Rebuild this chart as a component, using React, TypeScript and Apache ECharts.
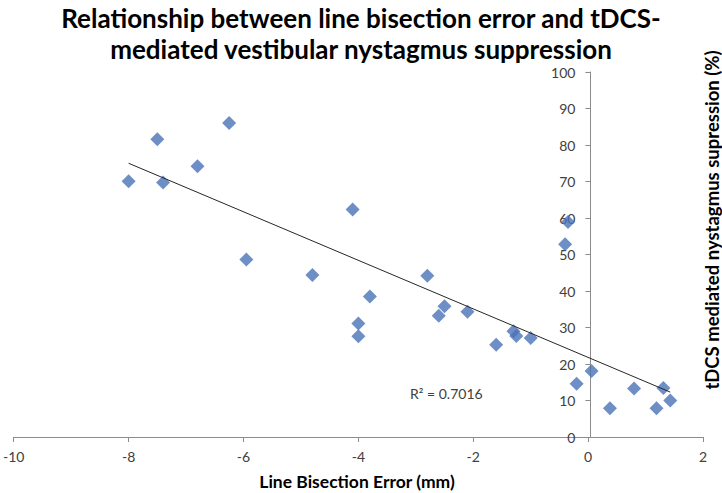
import React, { useEffect, useRef } from "react";
import * as echarts from "echarts";

const bisectionError = [
  -8.0, -7.5, -7.4, -6.8, -6.25, -5.95, -4.8, -4.1, -4.0, -4.0, -3.8, -2.8, -2.6, -2.5,
  -2.1, -1.6, -1.3, -1.25, -1.0, -0.4, -0.35, -0.2, 0.06, 0.38, 0.8, 1.19, 1.31, 1.43,
];
const suppression = [
  70.1, 81.6, 69.7, 74.2, 86.0, 48.6, 44.4, 62.3, 31.1, 27.6, 38.5, 44.2, 33.2, 35.8,
  34.3, 25.3, 29.0, 27.7, 27.1, 52.8, 58.9, 14.6, 18.1, 7.9, 13.3, 7.9, 13.4, 10.0,
];
const trendX = [-8.0, 1.43];
const trendY = [75.0, 12.3];
const xTicks = { min: -10, max: 2, step: 2 };
const yTicks = { min: 0, max: 100, step: 10 };
const titleLines = [
  "Relationship between line bisection error and tDCS-",
  "mediated vestibular nystagmus suppression",
];
const xTitle = "Line Bisection Error (mm)";
const yTitle = "tDCS mediated nystagmus supression (%)";
const rSquaredLabel = "R² = 0.7016";

const FONT = "Lato, 'Open Sans', sans-serif";
const GRID_LEFT = 11;
const GRID_RIGHT = 19;
const WIDTH = 722;

export default function App() {
  const ref = useRef<HTMLDivElement>(null);
  useEffect(() => {
    if (!ref.current) return;
    const chart = echarts.init(ref.current, null, { renderer: "svg" });
    const points = bisectionError.map((x, i) => [x, suppression[i]]);
    const trend = trendX.map((x, i) => [x, trendY[i]]);
    // place the y axis where x = 0 (value axis crossing)
    const plotW = WIDTH - GRID_LEFT - GRID_RIGHT;
    const zeroOffset = ((0 - xTicks.min) / (xTicks.max - xTicks.min)) * plotW;
    chart.setOption({
      animation: false,
      backgroundColor: "#ffffff",
      title: {
        text: titleLines.join("\n"),
        left: "center",
        top: -3,
        textStyle: {
          fontFamily: FONT,
          fontSize: 26,
          fontWeight: "bold",
          color: "#000000",
          lineHeight: 31,
        },
      },
      grid: { left: GRID_LEFT, right: GRID_RIGHT, top: 72, bottom: 56, containLabel: false },
      xAxis: {
        type: "value",
        min: xTicks.min,
        max: xTicks.max,
        interval: xTicks.step,
        splitLine: { show: false },
        axisLine: { show: true, onZero: true, lineStyle: { color: "#8c8c8c", width: 1 } },
        axisTick: { show: true, length: 5, inside: false, lineStyle: { color: "#8c8c8c" } },
        axisLabel: { fontFamily: FONT, fontSize: 14, color: "#404040", margin: 12 },
      },
      yAxis: {
        type: "value",
        position: "left",
        offset: -zeroOffset,
        min: yTicks.min,
        max: yTicks.max,
        interval: yTicks.step,
        splitLine: { show: false },
        axisLine: { show: true, onZero: false, lineStyle: { color: "#8c8c8c", width: 1 } },
        axisTick: { show: true, length: 5, inside: false, lineStyle: { color: "#8c8c8c" } },
        axisLabel: { fontFamily: FONT, fontSize: 14, color: "#404040", margin: 15 },
      },
      series: [
        {
          type: "line",
          data: trend,
          symbol: "none",
          lineStyle: { color: "#262626", width: 1 },
          z: 3,
          silent: true,
        },
        {
          type: "scatter",
          data: points,
          symbol: "diamond",
          symbolSize: 14,
          itemStyle: { color: "#4A72B8" },
          z: 2,
        },
      ],
      graphic: [
        {
          type: "text",
          x: 357,
          y: 481,
          style: {
            text: xTitle,
            fontFamily: FONT,
            fontSize: 17.5,
            fontWeight: "bold",
            fill: "#000000",
            align: "center",
            verticalAlign: "middle",
          },
        },
        {
          type: "text",
          x: 712,
          y: 220,
          rotation: Math.PI / 2,
          style: {
            text: yTitle,
            fontFamily: FONT,
            fontSize: 18.5,
            fontWeight: "bold",
            fill: "#000000",
            align: "center",
            verticalAlign: "middle",
          },
        },
        {
          type: "text",
          x: 410,
          y: 393,
          style: {
            text: rSquaredLabel,
            fontFamily: FONT,
            fontSize: 14,
            fill: "#404040",
            align: "left",
            verticalAlign: "middle",
          },
        },
      ],
    });
    return () => chart.dispose();
  }, []);
  return (
    <div
      ref={ref}
      style={{ position: "absolute", left: 0, top: 0, width: 722, height: 493 }}
    />
  );
}
